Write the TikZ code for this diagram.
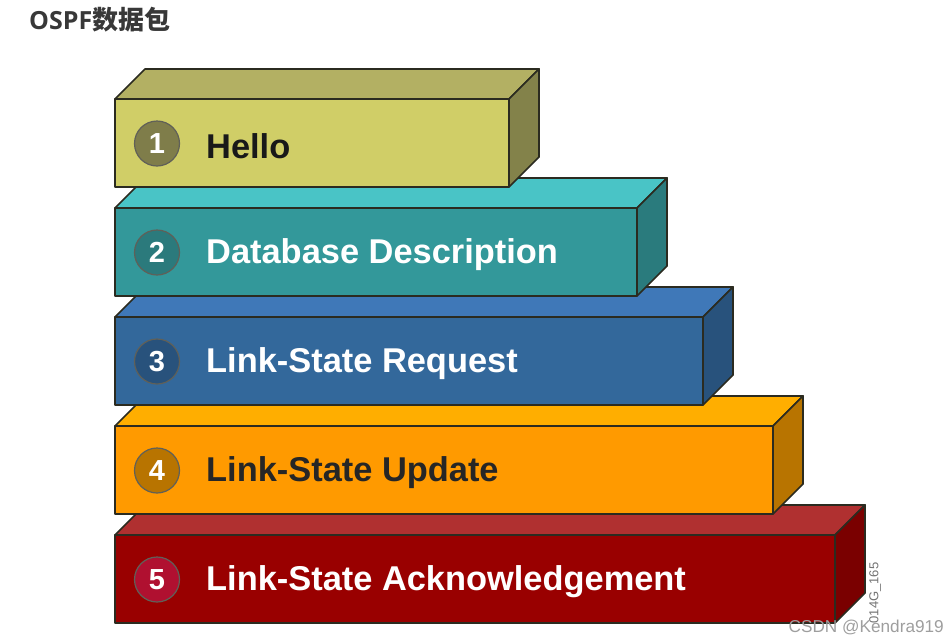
\documentclass[tikz,border=0pt]{standalone}
\usepackage{fontspec}
\setmainfont{Liberation Sans}
\newfontfamily\titlefont{Noto Sans CJK SC}
\newfontfamily\titlelatin{Open Sans}
\usetikzlibrary{positioning}
\definecolor{helloFront}{HTML}{D0CE67}
\definecolor{helloTop}{HTML}{B3B063}
\definecolor{helloSide}{HTML}{83824A}
\definecolor{helloBall}{HTML}{7F7D4A}
\definecolor{dbFront}{HTML}{33989A}
\definecolor{dbTop}{HTML}{49C4C6}
\definecolor{dbSide}{HTML}{2A7B7D}
\definecolor{dbBall}{HTML}{2B7A7C}
\definecolor{reqFront}{HTML}{33689B}
\definecolor{reqTop}{HTML}{3F78B8}
\definecolor{reqSide}{HTML}{28527C}
\definecolor{reqBall}{HTML}{28527C}
\definecolor{updFront}{HTML}{FF9A00}
\definecolor{updTop}{HTML}{FFAE00}
\definecolor{updSide}{HTML}{B87400}
\definecolor{updBall}{HTML}{B87400}
\definecolor{ackFront}{HTML}{990000}
\definecolor{ackTop}{HTML}{B03030}
\definecolor{ackSide}{HTML}{7A0000}
\definecolor{ackBall}{HTML}{B01030}
\definecolor{edge}{HTML}{2B2B20}
\tikzset{
  face/.style={draw=edge, line width=1.7pt, line join=round},
  ball/.style={circle, draw=edge!75, line width=1.2pt, minimum size=45pt, inner sep=0pt,
    font=\fontsize{29}{29}\selectfont\bfseries, text=white},
  label/.style={anchor=west, inner sep=0pt, font=\fontsize{34.4}{34.4}\selectfont\bfseries},
}
\newcommand{\layer}[7]{%
  % name, right edge, top edge, colour prefix, number, text colour, text
  \coordinate (#1a) at (115,#3);
  \coordinate (#1b) at (#2,#3);
  \coordinate (#1c) at (#2,#3+88);
  \coordinate (#1d) at (115,#3+88);
  \coordinate (#1e) at (145,#3-30);
  \coordinate (#1f) at (#2+30,#3-30);
  \coordinate (#1g) at (#2+30,#3+58);
  \draw[face, fill=#4Top] (#1a) -- (#1e) -- (#1f) -- (#1b) -- cycle;
  \draw[face, fill=#4Side] (#1b) -- (#1f) -- (#1g) -- (#1c) -- cycle;
  \draw[face, fill=#4Front] (#1a) -- (#1b) -- (#1c) -- (#1d) -- cycle;
  \node[ball, fill=#4Ball] (#1n) at (157,#3+44.5) {#5};
  \node[label, text=#6] (#1t) at (206,#3+47) {#7};
}
\begin{document}
\begin{tikzpicture}[x=1pt, y=-1pt]
  \useasboundingbox (0,0) rectangle (947,643);
  \node[anchor=west, inner sep=0pt, text=black!78, font=\fontsize{25}{25}\selectfont\bfseries] (title) at (29,20) {{\titlelatin OSPF}{\titlefont\fontsize{26}{26}\selectfont 数据包}};
  \layer{ack}{835}{535}{ack}{5}{white}{Link-State Acknowledgement}
  \layer{upd}{773}{426}{upd}{4}{black!85}{Link-State Update}
  \layer{req}{703}{317}{req}{3}{white}{Link-State Request}
  \layer{db}{637}{208}{db}{2}{white}{Database Description}
  \layer{hello}{509}{99}{hello}{1}{black!90}{Hello}
  \node[rotate=90, inner sep=0pt, text=black!55, font=\fontsize{13}{13}\selectfont] (code) at (875,593) {014G\_165};
  \node[anchor=east, inner sep=0pt, text=black!38, font=\fontsize{17.2}{17.2}\selectfont] (mark) at (944,627) {CSDN @Kendra919};
\end{tikzpicture}
\end{document}
